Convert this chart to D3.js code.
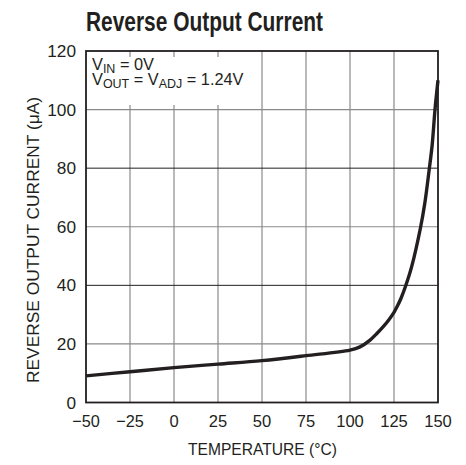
<!DOCTYPE html>
<html><head><meta charset="utf-8">
<script src="https://cdn.jsdelivr.net/npm/d3@7"></script>
<style>
body{margin:0;background:#fff;}
text{font-family:"Liberation Sans","Arial",sans-serif;fill:#231f20;}
</style></head>
<body><svg id="c" width="466" height="465"></svg>
<script>
const temps = [-50,-25,0,25,50,75,100,105.7,111.4,115,118.9,122,125,127,129,131.5,135,140,142.5,145,146.7,148.3,150];
const current = [9.1,10.5,11.9,13.1,14.3,16,17.9,19.0,21.3,23.4,25.9,28.2,30.8,33.0,35.6,39.6,46.3,59.5,68,79.5,88,100,110];
const xTicks = [-50,-25,0,25,50,75,100,125,150];
const xTickLabels = ["\u221250","\u221225","0","25","50","75","100","125","150"];
const yTicks = [0,20,40,60,80,100,120];
const darkGrid = [40,80];

const svg = d3.select("#c");
const L=86,R=438,T=51,B=402.5;
const x = d3.scaleLinear().domain([-50,150]).range([L,R]);
const y = d3.scaleLinear().domain([0,120]).range([B,T]);

// grid
svg.append("g").selectAll("line").data(xTicks.slice(1,-1)).join("line")
  .attr("x1",d=>x(d)).attr("x2",d=>x(d)).attr("y1",T).attr("y2",B)
  .attr("stroke","#8a8a8a").attr("stroke-width",1.2);
svg.append("g").selectAll("line").data(yTicks.slice(1,-1)).join("line")
  .attr("x1",L).attr("x2",R).attr("y1",d=>y(d)).attr("y2",d=>y(d))
  .attr("stroke",d=>darkGrid.includes(d)?"#231f20":"#8a8a8a").attr("stroke-width",d=>darkGrid.includes(d)?1:1.2);

// annotation background
svg.append("rect").attr("x",L+1).attr("y",57).attr("width",168).attr("height",48).attr("fill","#fff");

// border
svg.append("rect").attr("x",L).attr("y",T).attr("width",R-L).attr("height",B-T)
  .attr("fill","none").attr("stroke","#231f20").attr("stroke-width",1.8);

// curve
const line = d3.line().x(d=>x(d[0])).y(d=>y(d[1])).curve(d3.curveCatmullRom.alpha(0.5));
svg.append("path").datum(temps.map((t,i)=>[t,current[i]])).attr("d",line)
  .attr("fill","none").attr("stroke","#231f20").attr("stroke-width",3.4).attr("stroke-linecap","butt");

// y tick labels
svg.append("g").selectAll("text").data(yTicks).join("text")
  .attr("x",L-10).attr("y",d=>y(d)+6).attr("text-anchor","end").attr("font-size",17)
  .attr("textLength",d=>String(d).length*9.6).attr("lengthAdjust","spacingAndGlyphs").text(d=>d);
// x tick labels
svg.append("g").selectAll("text").data(xTicks).join("text")
  .attr("x",d=>x(d)).attr("y",427).attr("text-anchor","middle").attr("font-size",17)
  .attr("textLength",(d,i)=>xTickLabels[i].length*9.2).attr("lengthAdjust","spacingAndGlyphs")
  .text((d,i)=>xTickLabels[i]);

// axis titles
svg.append("text").attr("x",262.5).attr("y",455).attr("text-anchor","middle").attr("font-size",17)
  .attr("textLength",149).attr("lengthAdjust","spacingAndGlyphs").text("TEMPERATURE (\u00b0C)");
svg.append("text").attr("transform","translate(39,240) rotate(-90)").attr("text-anchor","middle").attr("font-size",16)
  .attr("textLength",286).attr("lengthAdjust","spacingAndGlyphs").text("REVERSE OUTPUT CURRENT (\u03bcA)");

// title
svg.append("text").attr("x",86).attr("y",31).attr("font-size",27).attr("font-weight","bold")
  .attr("textLength",237).attr("lengthAdjust","spacingAndGlyphs").text("Reverse Output Current");

// annotation (condensed horizontally)
const ann = svg.append("g").attr("transform","translate(92,0) scale(0.96,1)");
const a1 = ann.append("text").attr("x",0).attr("y",70).attr("font-size",17);
a1.append("tspan").text("V");
a1.append("tspan").attr("font-size",13).attr("dy",3).text("IN");
a1.append("tspan").attr("dy",-3).text(" = 0V");
const a2 = ann.append("text").attr("x",0).attr("y",85.5).attr("font-size",17);
a2.append("tspan").text("V");
a2.append("tspan").attr("font-size",13).attr("dy",3).text("OUT");
a2.append("tspan").attr("dy",-3).text(" = V");
a2.append("tspan").attr("font-size",13).attr("dy",3).text("ADJ");
a2.append("tspan").attr("dy",-3).text(" = 1.24V");
</script></body></html>
